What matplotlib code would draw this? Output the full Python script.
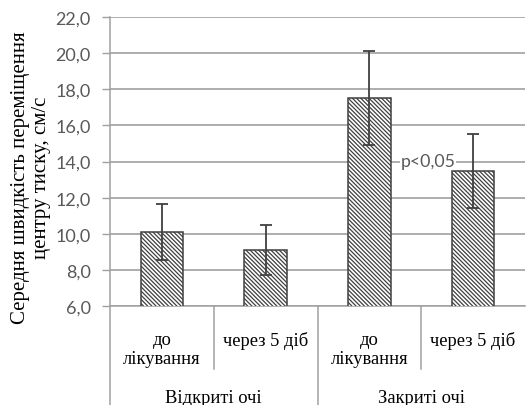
import matplotlib
matplotlib.use("Agg")
import matplotlib.pyplot as plt
import matplotlib.transforms as mtransforms

# data
sub_labels = ["до\nлікування", "через 5 діб", "до\nлікування", "через 5 діб"]
group_labels = ["Відкриті очі", "Закриті очі"]
means = [10.1, 9.1, 17.5, 13.5]
errors = [1.55, 1.4, 2.6, 2.05]
y_ticks = [6, 8, 10, 12, 14, 16, 18, 20, 22]
y_tick_labels = ["6,0", "8,0", "10,0", "12,0", "14,0", "16,0", "18,0", "20,0", "22,0"]
note = "p<0,05"

W, H = 526, 406
grey = "#a0a0a0"
dark = "#404040"
serif = ["Liberation Serif", "DejaVu Serif"]

plt.rcParams["hatch.linewidth"] = 0.9

fig = plt.figure(figsize=(W / 100, H / 100), dpi=100)
ax = fig.add_axes([110 / W, (H - 307) / H, 415 / W, 289 / H])

x = list(range(len(means)))
ax.bar(x, means, width=0.41, bottom=0, color="white", edgecolor=dark,
       hatch="\\" * 8, linewidth=1.1, zorder=3)
ax.errorbar(x, means, yerr=errors, fmt="none", ecolor=dark, elinewidth=1.3,
            capsize=4, capthick=1.3, zorder=4)

ax.set_xlim(-0.5, 3.5)
ax.set_ylim(6, 22)
ax.set_yticks(y_ticks)
ax.set_yticklabels(y_tick_labels, fontfamily="Lato", fontsize=13, color="#595959")
ax.tick_params(axis="y", length=6, width=1.0, color=grey, pad=8)
ax.set_xticks([])
ax.grid(axis="y", color=grey, linewidth=1.2, zorder=0)
ax.set_axisbelow(True)
for s in ["top", "right"]:
    ax.spines[s].set_visible(False)
ax.spines["left"].set_color(grey)
ax.spines["bottom"].set_color(grey)
ax.spines["left"].set_linewidth(1.1)
ax.spines["bottom"].set_linewidth(1.1)

# category dividers under the axis
tr = mtransforms.blended_transform_factory(ax.transData, ax.transAxes)
low_sub = -63 / 289
low_grp = -100 / 289
for xd in [-0.5, 1.5]:
    ax.plot([xd, xd], [0, low_grp], transform=tr, color=grey, lw=1.1, clip_on=False)
for xd in [0.5, 2.5]:
    ax.plot([xd, xd], [0, low_sub], transform=tr, color=grey, lw=1.1, clip_on=False)

for xi, lab in zip(x, sub_labels):
    ax.text(xi, -25 / 289, lab, transform=tr, ha="center", va="top",
            fontfamily=serif, fontsize=13.3, linespacing=1.12)
for gi, lab in enumerate(group_labels):
    ax.text(0.5 + 2 * gi, -83 / 289, lab, transform=tr, ha="center", va="top",
            fontfamily=serif, fontsize=13.3)

ax.text(2.3, 14.0, note, ha="left", va="center", fontfamily="Lato", fontsize=12.8,
        color="#595959", zorder=5,
        bbox=dict(facecolor="white", edgecolor="none", pad=0.5))

fig.text(31 / W, (H - 178) / H, "Середня швидкість переміщення\nцентру тиску, см/с",
         rotation=90, ha="center", va="center", fontfamily=serif, fontsize=15,
         linespacing=1.12)

fig.savefig("out.png", dpi=100)
